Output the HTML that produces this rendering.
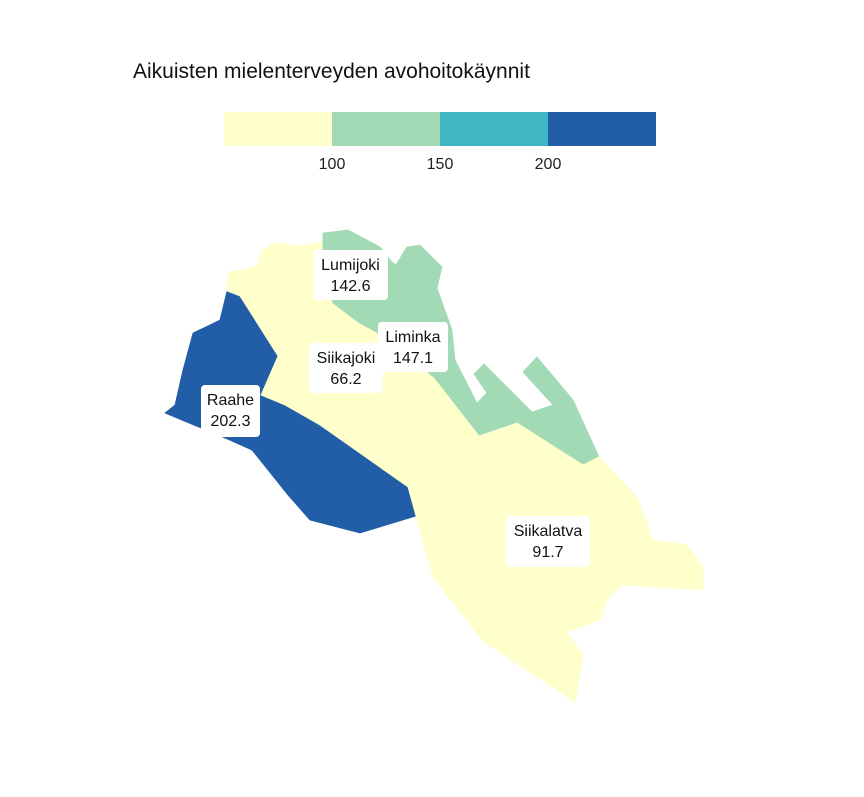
<!DOCTYPE html>
<html><head><meta charset="utf-8"><style>
html,body{margin:0;padding:0;background:#fff;}
svg text{font-family:"Liberation Sans",sans-serif;}
</style></head><body>
<svg id="chart" width="864" height="792" viewBox="0 0 864 792" xmlns="http://www.w3.org/2000/svg">
<text x="133" y="78" font-size="21" fill="#111">Aikuisten mielenterveyden avohoitokäynnit</text>
<g id="legend"></g>
<g id="regions"></g>
<g id="labels"></g>
</svg>
<script>
const names = ["Raahe","Siikajoki","Lumijoki","Liminka","Siikalatva"];
const values = [202.3, 66.2, 142.6, 147.1, 91.7];
const thresholds = [100, 150, 200];
const colors = ["#ffffcc","#a3dab6","#41b6c4","#225ea8"];
const shapes = {
 Raahe:[[227,291],[240,296],[278,356],[261,395],[285,405],[320,425],[408,485],[416,516],[360,533],[310,520],[288,495],[252,450],[225,438],[165,413],[175,405],[183,370],[193,333],[210,325],[220,320]],
 Siikajoki:[[227,291],[228,272],[243,270],[258,265],[262,250],[275,243],[300,246],[323,242],[323,250],[333,303],[358,322],[400,345],[433,377],[402,412],[423,443],[423,483],[408,487],[320,425],[285,405],[261,395],[278,356],[240,296]],
 Lumijoki:[[323,233],[348,230],[380,247],[392,262],[400,268],[406,262],[407,247],[390,275],[373,302],[358,322],[333,303],[323,250]],
 Liminka:[[407,247],[420,245],[442,267],[437,288],[452,330],[455,360],[477,403],[487,393],[474,374],[484,364],[532,412],[553,405],[523,372],[537,357],[573,400],[599,457],[583,465],[517,423],[479,436],[433,377],[400,345],[358,322],[373,302],[390,275]],
 Siikalatva:[[433,377],[479,436],[517,423],[583,465],[599,457],[637,497],[653,540],[686,545],[703,566],[703,590],[622,585],[607,600],[600,620],[567,632],[583,655],[575,702],[484,642],[433,577],[416,516],[408,487],[423,483],[423,443],[402,412]]
};
const labelBoxes = {Raahe:[201,385,59,52],Siikajoki:[309,343,74,50],Lumijoki:[313,250,75,50],Liminka:[378,322,70,50],Siikalatva:[506,516,84,51]};
const NS="http://www.w3.org/2000/svg";
function colorFor(v){let i=0;while(i<thresholds.length&&v>=thresholds[i])i++;return colors[i];}
const legX0=224, segW=108, legY=112, legH=34;
const lg=document.getElementById('legend');
colors.forEach((c,i)=>{
 const r=document.createElementNS(NS,'rect');
 r.setAttribute('x',legX0+i*segW);r.setAttribute('y',legY);r.setAttribute('width',segW);r.setAttribute('height',legH);r.setAttribute('fill',c);
 
 
 lg.appendChild(r);
});
thresholds.forEach((t,i)=>{
 const tx=document.createElementNS(NS,'text');
 tx.setAttribute('x',legX0+(i+1)*segW);tx.setAttribute('y',169);tx.setAttribute('text-anchor','middle');tx.setAttribute('font-size','16');tx.setAttribute('fill','#222');
 tx.textContent=t;
 
 
 lg.appendChild(tx);
});
const rg=document.getElementById('regions'), lb=document.getElementById('labels');
names.forEach((n,i)=>{
 const p=document.createElementNS(NS,'polygon');
 p.setAttribute('points',shapes[n].map(q=>q.join(',')).join(' '));
 p.setAttribute('fill',colorFor(values[i]));p.setAttribute('stroke',colorFor(values[i]));p.setAttribute('stroke-width','0.8');
 
 
 rg.appendChild(p);
});
names.forEach((n,i)=>{
 const b=labelBoxes[n];
 const g=document.createElementNS(NS,'g');
 
 
 const r=document.createElementNS(NS,'rect');
 r.setAttribute('x',b[0]);r.setAttribute('y',b[1]);r.setAttribute('width',b[2]);r.setAttribute('height',b[3]);r.setAttribute('rx',4);r.setAttribute('fill','#fff');
 g.appendChild(r);
 const cx=b[0]+b[2]/2;
 [n,values[i].toFixed(1)].forEach((s,k)=>{
  const t=document.createElementNS(NS,'text');
  t.setAttribute('x',cx);t.setAttribute('y',b[1]+20+k*21);t.setAttribute('text-anchor','middle');t.setAttribute('font-size','16');t.setAttribute('fill','#111');
  t.textContent=s;g.appendChild(t);
 });
 lb.appendChild(g);
});
</script>
</body></html>
